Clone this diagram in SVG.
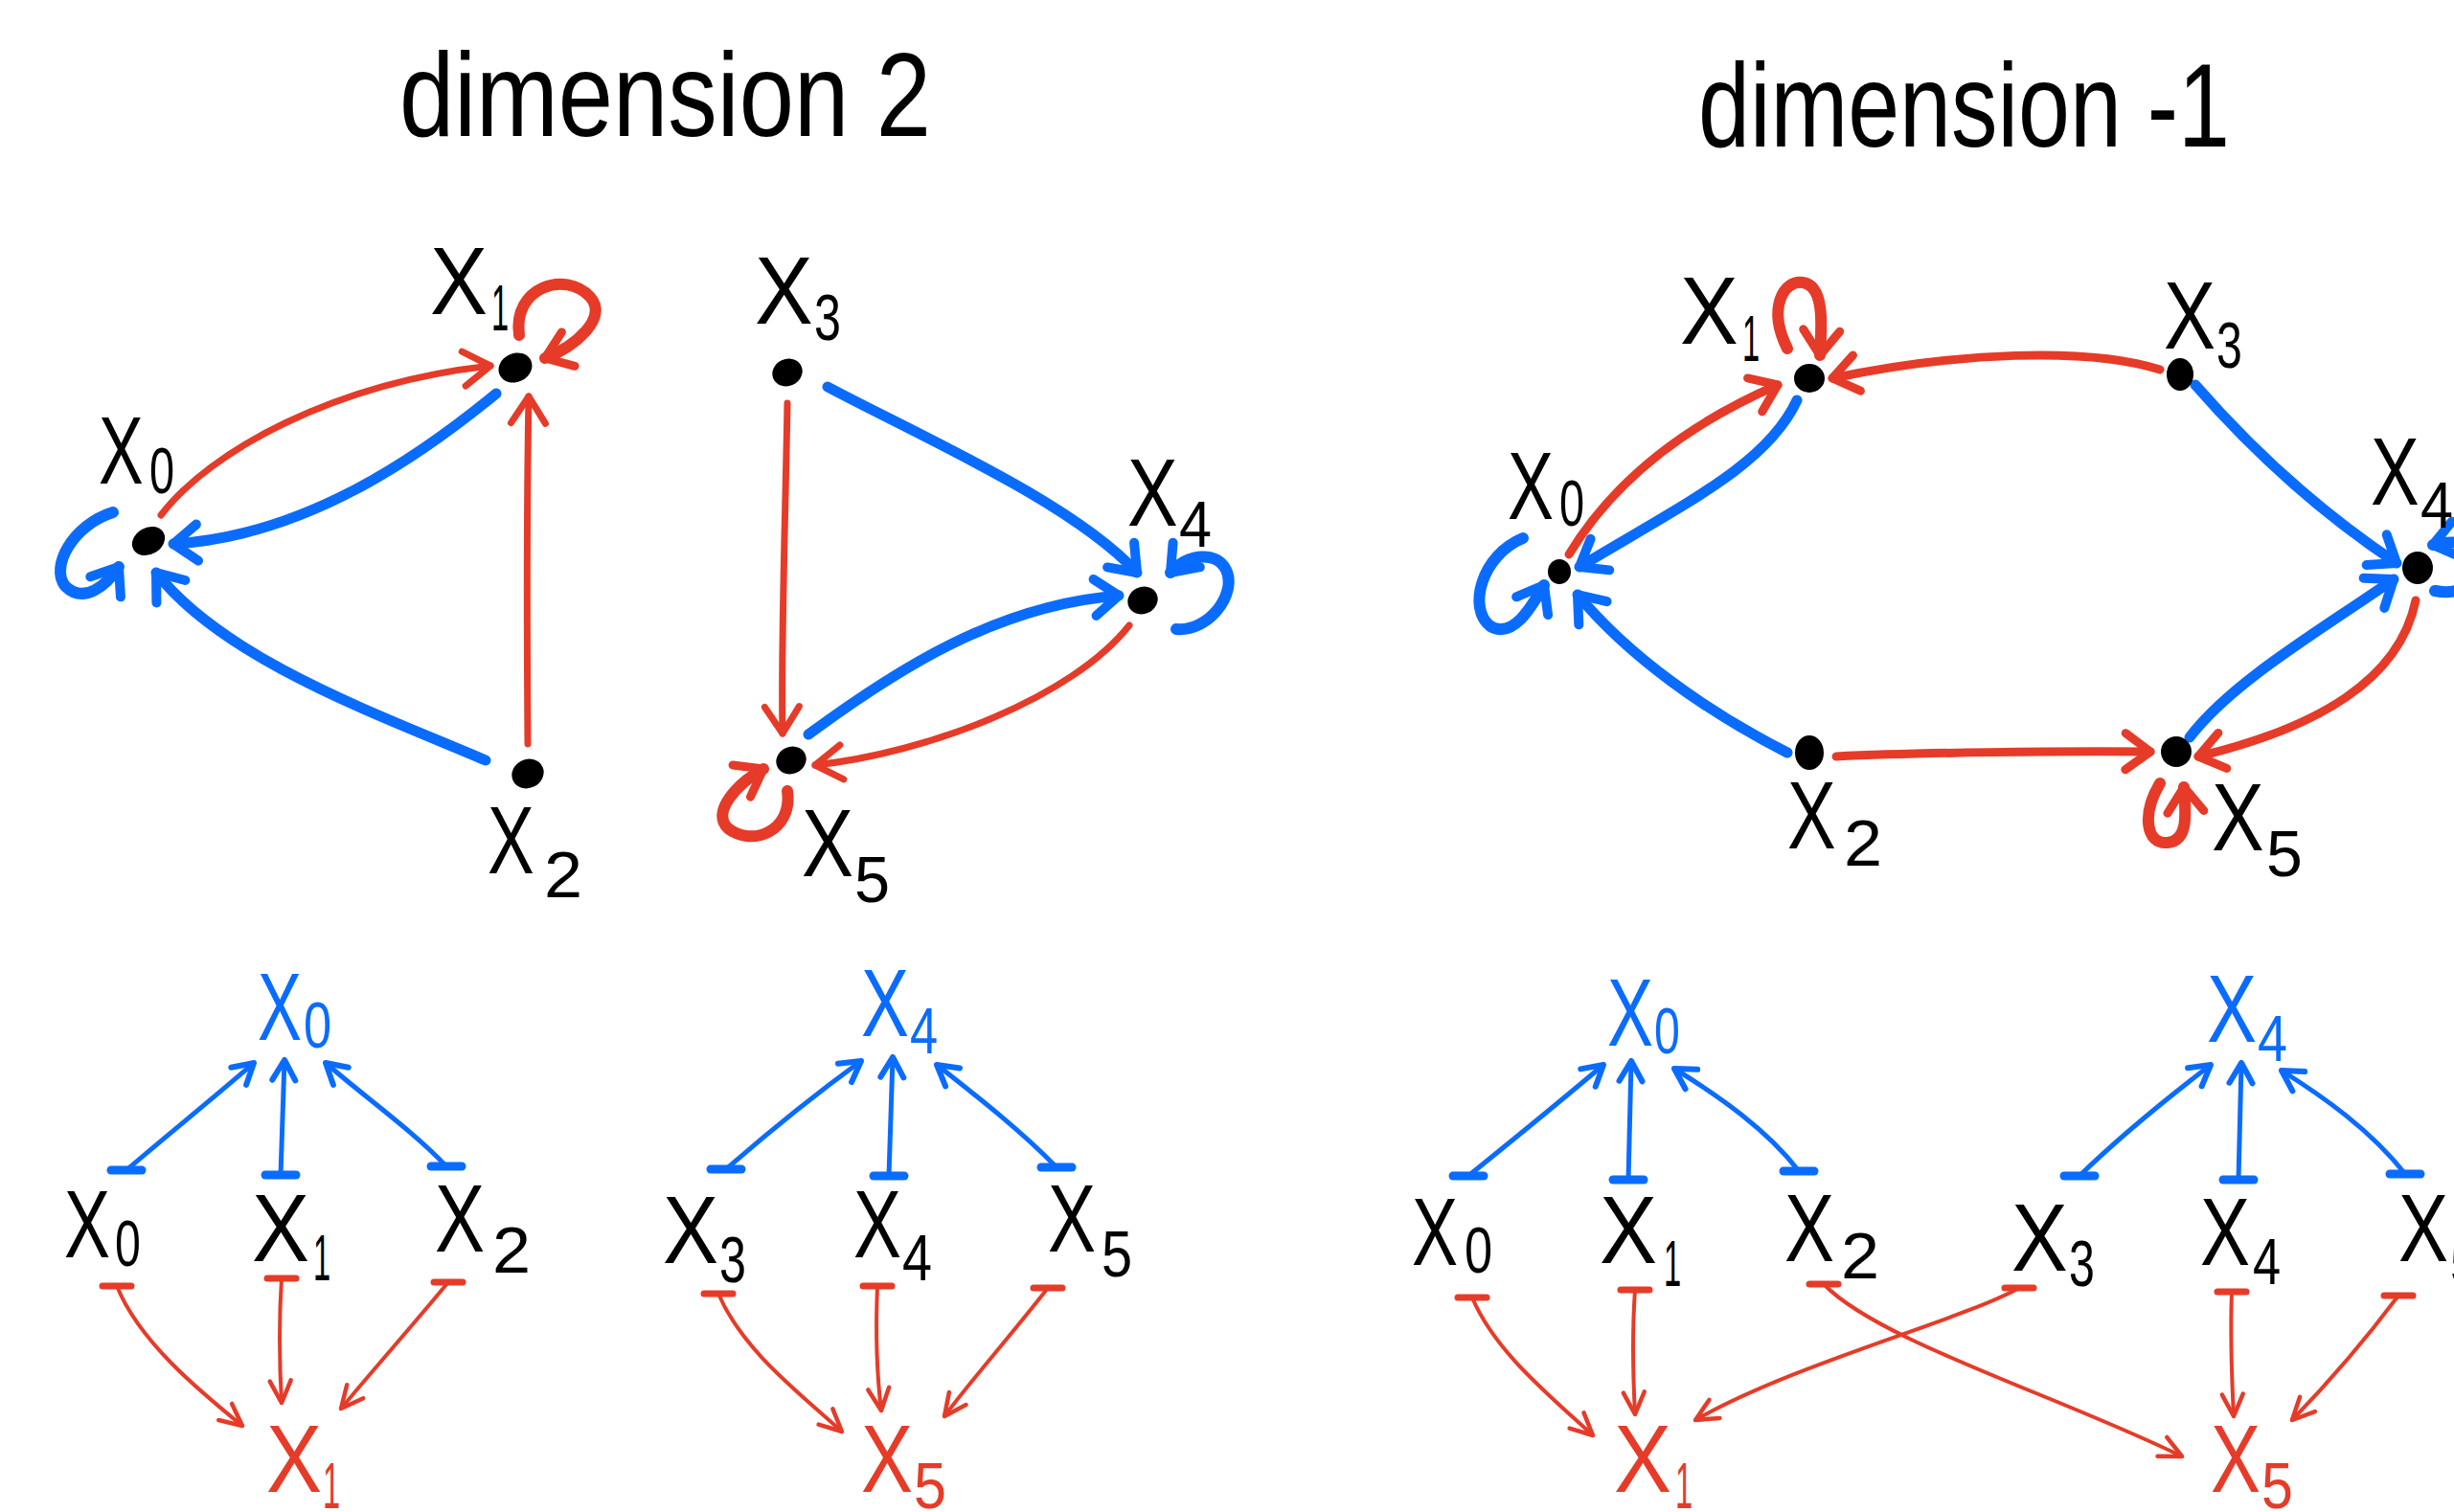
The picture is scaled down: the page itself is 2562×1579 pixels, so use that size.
<svg xmlns="http://www.w3.org/2000/svg" width="2562" height="1579" viewBox="0 0 2562 1579">
<style>
.t{font-family:"Liberation Sans",Arial,sans-serif;font-size:125px;fill:#000}
.l{font-family:"Liberation Sans",Arial,sans-serif;font-size:100px;fill:#000}
.s{font-family:"Liberation Sans",Arial,sans-serif;font-size:68px;fill:#000}
.lb{fill:#0a6cff}
.lr{fill:#e63b28}
.dot{fill:#000}
.eb{fill:none;stroke:#0a6cff;stroke-width:11;stroke-linecap:round}
.er{fill:none;stroke:#e63b28;stroke-width:7;stroke-linecap:round}
.er2{stroke-width:9}
.lp{stroke-width:12}
.tb{fill:none;stroke:#0a6cff;stroke-width:5;stroke-linecap:round}
.tr{fill:none;stroke:#e63b28;stroke-width:4;stroke-linecap:round}
.mb{fill:none;stroke:#0a6cff;stroke-linecap:round;stroke-linejoin:round}
.mr{fill:none;stroke:#e63b28;stroke-linecap:round;stroke-linejoin:round}
</style>
<defs>
<marker id="aB" viewBox="-40 -40 80 80" markerWidth="80" markerHeight="80" markerUnits="userSpaceOnUse" refX="0" refY="0" orient="auto"><path class="mb" stroke-width="10" d="M-25,-19 L0,0 L-25,19"/></marker>
<marker id="aR" viewBox="-40 -40 80 80" markerWidth="80" markerHeight="80" markerUnits="userSpaceOnUse" refX="0" refY="0" orient="auto"><path class="mr" stroke-width="7" d="M-28,-18 L0,0 L-28,18"/></marker>
<marker id="aR9" viewBox="-40 -40 80 80" markerWidth="80" markerHeight="80" markerUnits="userSpaceOnUse" refX="0" refY="0" orient="auto"><path class="mr" stroke-width="9" d="M-26,-19 L0,0 L-26,19"/></marker>
<marker id="sB" viewBox="-40 -40 80 80" markerWidth="80" markerHeight="80" markerUnits="userSpaceOnUse" refX="0" refY="0" orient="auto"><path class="mb" stroke-width="6" d="M-21,-12 L0,0 L-21,12"/></marker>
<marker id="sR" viewBox="-40 -40 80 80" markerWidth="80" markerHeight="80" markerUnits="userSpaceOnUse" refX="0" refY="0" orient="auto"><path class="mr" stroke-width="4.5" d="M-23,-11 L0,0 L-23,11"/></marker>
<marker id="bB" viewBox="-40 -40 80 80" markerWidth="80" markerHeight="80" markerUnits="userSpaceOnUse" refX="0" refY="0" orient="0"><path class="mb" stroke-width="9" d="M-16,0 L16,0"/></marker>
<marker id="bR" viewBox="-40 -40 80 80" markerWidth="80" markerHeight="80" markerUnits="userSpaceOnUse" refX="0" refY="0" orient="0"><path class="mr" stroke-width="7" d="M-15,0 L15,0"/></marker>
</defs>
<rect width="2562" height="1579" fill="#fff"/>

<g id="titles">
<text class="t" x="417" y="142" textLength="555" lengthAdjust="spacingAndGlyphs">dimension 2</text>
<text class="t" x="1773" y="153" textLength="555" lengthAdjust="spacingAndGlyphs">dimension -1</text>
</g>

<g id="connectors">
<!-- dimension 2, left triangle -->
<path class="er" d="M168,538 C220,470 350,400 512,382" marker-end="url(#aR)"/>
<path class="eb" d="M518,411 C440,475 320,560 181,568" marker-end="url(#aB)"/>
<path class="eb" d="M507,794 C400,748 235,690 163,598" marker-end="url(#aB)"/>
<path class="er" d="M551,777 C550,650 550,520 552,414" marker-end="url(#aR)"/>
<path class="er lp" d="M542,350 C535,300 590,282 616,310 C636,332 600,362 569,374" marker-end="url(#aR9)"/>
<path class="eb lp" d="M118,535 C76,548 52,592 68,612 C88,632 112,610 124,592" marker-end="url(#aB)"/>
<!-- dimension 2, right triangle -->
<path class="er" d="M822,421 C820,540 815,680 817,766" marker-end="url(#aR)"/>
<path class="eb" d="M864,404 C960,455 1120,525 1187,598" marker-end="url(#aB)"/>
<path class="eb" d="M844,767 C935,700 1040,632 1168,622" marker-end="url(#aB)"/>
<path class="er" d="M1179,653 C1120,728 970,786 851,799" marker-end="url(#aR)"/>
<path class="eb lp" d="M1228,657 C1262,660 1292,620 1280,595 C1270,575 1240,578 1222,598" marker-end="url(#aB)"/>
<path class="er lp" d="M822,826 C828,868 785,885 760,865 C742,848 770,818 797,803" marker-end="url(#aR9)"/>
<!-- dimension -1 hexagon -->
<path class="er er2" d="M1638,579 C1680,510 1750,448 1856,402" marker-end="url(#aR9)"/>
<path class="eb" d="M1876,418 C1845,485 1760,525 1649,592" marker-end="url(#aB)"/>
<path class="er er2" d="M2255,386 C2180,362 2040,368 1913,395" marker-end="url(#aR9)"/>
<path class="er lp" d="M1866,364 C1845,322 1862,292 1882,295 C1905,298 1902,340 1900,371" marker-end="url(#aR9)"/>
<path class="eb" d="M2292,402 C2360,480 2430,540 2502,588" marker-end="url(#aB)"/>
<path class="eb" d="M1866,786 C1780,742 1700,685 1647,621" marker-end="url(#aB)"/>
<path class="er er2" d="M1917,790 C2000,786 2150,784 2245,785" marker-end="url(#aR9)"/>
<path class="eb" d="M2286,770 C2330,712 2420,660 2499,605" marker-end="url(#aB)"/>
<path class="er er2" d="M2522,627 C2505,710 2420,760 2295,790" marker-end="url(#aR9)"/>
<path class="er lp" d="M2255,818 C2236,850 2240,882 2263,880 C2285,878 2282,850 2280,822" marker-end="url(#aR9)"/>
<path class="eb lp" d="M1590,562 C1546,580 1532,636 1556,654 C1580,668 1600,632 1612,611" marker-end="url(#aB)"/>
<path class="eb lp" d="M2542,617 C2600,628 2610,552 2540,569" marker-end="url(#aB)"/>
<!-- bottom left group -->
<path class="tb" d="M132,1222 C175,1185 225,1145 265,1110" marker-start="url(#bB)" marker-end="url(#sB)"/>
<path class="tb" d="M293,1227 L297,1107" marker-start="url(#bB)" marker-end="url(#sB)"/>
<path class="tb" d="M466,1218 C430,1180 380,1145 340,1110" marker-start="url(#bB)" marker-end="url(#sB)"/>
<path class="tr" d="M122,1343 C145,1400 205,1450 253,1489" marker-start="url(#bR)" marker-end="url(#sR)"/>
<path class="tr" d="M294,1335 C291,1380 292,1430 294,1465" marker-start="url(#bR)" marker-end="url(#sR)"/>
<path class="tr" d="M468,1339 C430,1385 390,1430 356,1471" marker-start="url(#bR)" marker-end="url(#sR)"/>
<!-- bottom middle group -->
<path class="tb" d="M758,1221 C805,1180 855,1140 899,1108" marker-start="url(#bB)" marker-end="url(#sB)"/>
<path class="tb" d="M928,1228 L932,1104" marker-start="url(#bB)" marker-end="url(#sB)"/>
<path class="tb" d="M1103,1219 C1065,1180 1020,1145 978,1112" marker-start="url(#bB)" marker-end="url(#sB)"/>
<path class="tr" d="M750,1351 C775,1410 835,1455 879,1495" marker-start="url(#bR)" marker-end="url(#sR)"/>
<path class="tr" d="M916,1343 C914,1390 916,1440 920,1473" marker-start="url(#bR)" marker-end="url(#sR)"/>
<path class="tr" d="M1094,1345 C1055,1395 1015,1440 986,1479" marker-start="url(#bR)" marker-end="url(#sR)"/>
<!-- bottom right group -->
<path class="tb" d="M1533,1228 C1580,1190 1635,1145 1674,1112" marker-start="url(#bB)" marker-end="url(#sB)"/>
<path class="tb" d="M1700,1232 L1703,1108" marker-start="url(#bB)" marker-end="url(#sB)"/>
<path class="tb" d="M1878,1223 C1845,1180 1795,1145 1748,1116" marker-start="url(#bB)" marker-end="url(#sB)"/>
<path class="tb" d="M2171,1228 C2215,1185 2265,1145 2308,1112" marker-start="url(#bB)" marker-end="url(#sB)"/>
<path class="tb" d="M2337,1232 L2340,1110" marker-start="url(#bB)" marker-end="url(#sB)"/>
<path class="tb" d="M2511,1226 C2475,1180 2425,1145 2382,1118" marker-start="url(#bB)" marker-end="url(#sB)"/>
<path class="tr" d="M1537,1355 C1560,1410 1615,1455 1663,1499" marker-start="url(#bR)" marker-end="url(#sR)"/>
<path class="tr" d="M1707,1347 C1704,1390 1705,1440 1707,1477" marker-start="url(#bR)" marker-end="url(#sR)"/>
<path class="tr" d="M2108,1345 C2050,1378 1870,1425 1770,1483" marker-start="url(#bR)" marker-end="url(#sR)"/>
<path class="tr" d="M1904,1341 C1960,1400 2150,1458 2278,1521" marker-start="url(#bR)" marker-end="url(#sR)"/>
<path class="tr" d="M2330,1349 C2328,1400 2330,1440 2332,1479" marker-start="url(#bR)" marker-end="url(#sR)"/>
<path class="tr" d="M2504,1353 C2465,1405 2425,1450 2393,1483" marker-start="url(#bR)" marker-end="url(#sR)"/>
</g>

<!-- dimension 2 nodes -->
<g id="d2-x0"><ellipse class="dot" cx="155" cy="565" rx="18" ry="14" transform="rotate(-30 155 565)"/><text class="l" transform="translate(103 505) scale(.70 1)">X</text><text class="s" transform="translate(156 515) scale(.69 1)">0</text></g>
<g id="d2-x1"><ellipse class="dot" cx="538" cy="384" rx="18" ry="15" transform="rotate(-25 538 384)"/><text class="l" transform="translate(449 328) scale(.90 1)">X</text><text class="s" transform="translate(513 345) scale(.48 1)">1</text></g>
<g id="d2-x2"><ellipse class="dot" cx="551" cy="808" rx="17" ry="15" transform="rotate(-25 551 808)"/><text class="l" transform="translate(509 912) scale(.73 1)">X</text><text class="s" transform="translate(568 937) scale(1.06 1)">2</text></g>
<g id="d2-x3"><ellipse class="dot" cx="822" cy="389" rx="16" ry="14" transform="rotate(-25 822 389)"/><text class="l" transform="translate(788 338) scale(.91 1)">X</text><text class="s" transform="translate(850 355) scale(.74 1)">3</text></g>
<g id="d2-x4"><ellipse class="dot" cx="1193" cy="627" rx="16" ry="14" transform="rotate(-25 1193 627)"/><text class="l" transform="translate(1177 549) scale(.79 1)">X</text><text class="s" transform="translate(1231 571) scale(.90 1)">4</text></g>
<g id="d2-x5"><ellipse class="dot" cx="826" cy="794" rx="16" ry="14" transform="rotate(-25 826 794)"/><text class="l" transform="translate(837 915) scale(.81 1)">X</text><text class="s" transform="translate(892 942) scale(.98 1)">5</text></g>

<!-- dimension -1 nodes -->
<g id="dm1-x0"><ellipse class="dot" cx="1628" cy="597" rx="12" ry="13"/><text class="l" transform="translate(1574 542) scale(.72 1)">X</text><text class="s" transform="translate(1628 549) scale(.69 1)">0</text></g>
<g id="dm1-x1"><ellipse class="dot" cx="1889" cy="395" rx="16" ry="15"/><text class="l" transform="translate(1754 359) scale(.91 1)">X</text><text class="s" transform="translate(1819 377) scale(.48 1)">1</text></g>
<g id="dm1-x2"><ellipse class="dot" cx="1889" cy="786" rx="15" ry="18"/><text class="l" transform="translate(1866 886) scale(.76 1)">X</text><text class="s" transform="translate(1925 904) scale(1.06 1)">2</text></g>
<g id="dm1-x3"><ellipse class="dot" cx="2276" cy="391" rx="14" ry="17"/><text class="l" transform="translate(2259 364) scale(.81 1)">X</text><text class="s" transform="translate(2314 384) scale(.71 1)">3</text></g>
<g id="dm1-x4"><ellipse class="dot" cx="2524" cy="593" rx="16" ry="17"/><text class="l" transform="translate(2475 527) scale(.76 1)">X</text><text class="s" transform="translate(2527 551) scale(.90 1)">4</text></g>
<g id="dm1-x5"><ellipse class="dot" cx="2272" cy="785" rx="16" ry="16"/><text class="l" transform="translate(2309 888) scale(.82 1)">X</text><text class="s" transform="translate(2366 915) scale(1.0 1)">5</text></g>

<!-- bottom left nodes -->
<g id="b1-top"><text class="l lb" transform="translate(269 1086) scale(.69 1)">X</text><text class="s lb" transform="translate(317 1094) scale(.77 1)">0</text></g>
<g id="b1-x0"><text class="l" transform="translate(67 1313) scale(.72 1)">X</text><text class="s" transform="translate(120 1322) scale(.71 1)">0</text></g>
<g id="b1-x1"><text class="l" transform="translate(263 1317) scale(.90 1)">X</text><text class="s" transform="translate(327 1337) scale(.48 1)">1</text></g>
<g id="b1-x2"><text class="l" transform="translate(454 1307) scale(.78 1)">X</text><text class="s" transform="translate(514 1329) scale(1.06 1)">2</text></g>
<g id="b1-bot"><text class="l lr" transform="translate(278 1558) scale(.87 1)">X</text><text class="s lr" transform="translate(337 1575) scale(.48 1)">1</text></g>

<g id="b2-top"><text class="l lb" transform="translate(899 1082) scale(.75 1)">X</text><text class="s lb" transform="translate(950 1100) scale(.77 1)">4</text></g>
<g id="b2-x3"><text class="l" transform="translate(692 1319) scale(.87 1)">X</text><text class="s" transform="translate(751 1339) scale(.74 1)">3</text></g>
<g id="b2-x4"><text class="l" transform="translate(891 1313) scale(.75 1)">X</text><text class="s" transform="translate(942 1337) scale(.82 1)">4</text></g>
<g id="b2-x5"><text class="l" transform="translate(1094 1307) scale(.75 1)">X</text><text class="s" transform="translate(1150 1333) scale(.85 1)">5</text></g>
<g id="b2-bot"><text class="l lr" transform="translate(899 1558) scale(.81 1)">X</text><text class="s lr" transform="translate(954 1575) scale(.90 1)">5</text></g>

<!-- bottom right nodes -->
<g id="b3-top0"><text class="l lb" transform="translate(1678 1092) scale(.72 1)">X</text><text class="s lb" transform="translate(1727 1100) scale(.71 1)">0</text></g>
<g id="b3-top4"><text class="l lb" transform="translate(2304 1088) scale(.78 1)">X</text><text class="s lb" transform="translate(2357 1108) scale(.82 1)">4</text></g>
<g id="b3-x0"><text class="l" transform="translate(1474 1321) scale(.72 1)">X</text><text class="s" transform="translate(1529 1329) scale(.77 1)">0</text></g>
<g id="b3-x1"><text class="l" transform="translate(1670 1319) scale(.90 1)">X</text><text class="s" transform="translate(1737 1343) scale(.48 1)">1</text></g>
<g id="b3-x2"><text class="l" transform="translate(1863 1317) scale(.78 1)">X</text><text class="s" transform="translate(1922 1335) scale(1.06 1)">2</text></g>
<g id="b3-x3"><text class="l" transform="translate(2100 1327) scale(.88 1)">X</text><text class="s" transform="translate(2160 1343) scale(.71 1)">3</text></g>
<g id="b3-x4"><text class="l" transform="translate(2297 1321) scale(.78 1)">X</text><text class="s" transform="translate(2352 1341) scale(.77 1)">4</text></g>
<g id="b3-x5"><text class="l" transform="translate(2504 1317) scale(.78 1)">X</text><text class="s" transform="translate(2558 1341) scale(.79 1)">5</text></g>
<g id="b3-bot1"><text class="l lr" transform="translate(1685 1558) scale(.90 1)">X</text><text class="s lr" transform="translate(1749 1575) scale(.48 1)">1</text></g>
<g id="b3-bot5"><text class="l lr" transform="translate(2308 1558) scale(.78 1)">X</text><text class="s lr" transform="translate(2361 1575) scale(.87 1)">5</text></g>
</svg>
